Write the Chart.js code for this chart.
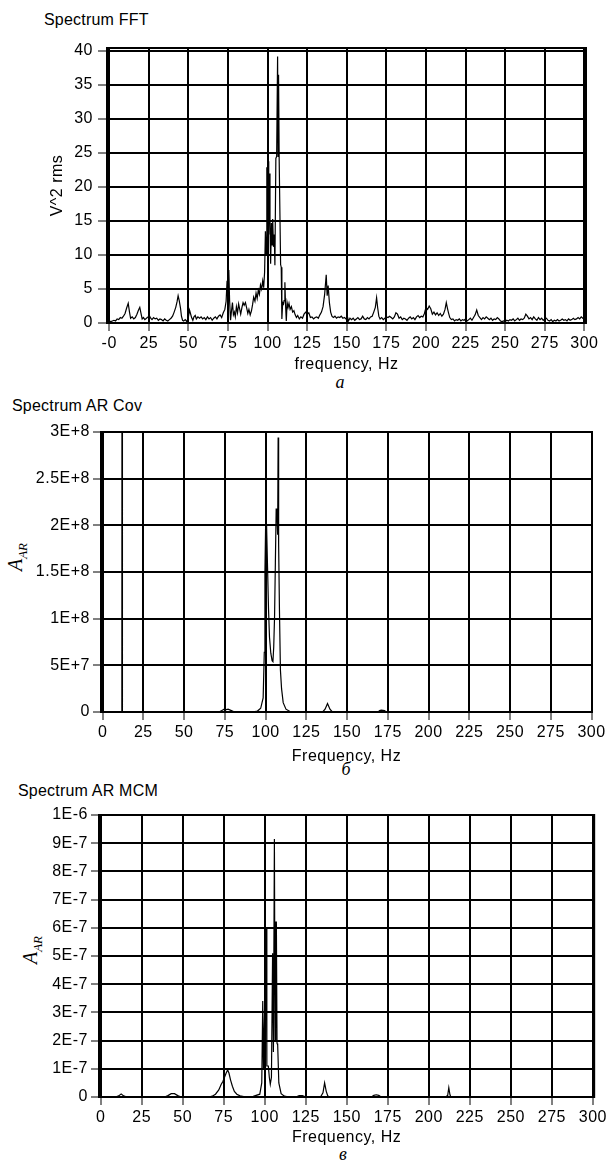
<!DOCTYPE html>
<html>
<head>
<meta charset="utf-8">
<script src="https://cdn.jsdelivr.net/npm/chart.js@4.4.0/dist/chart.umd.min.js"></script>
<style>
  body { margin: 0; background: #fff; width: 610px; height: 1160px; position: relative; overflow: hidden; font-family: "Liberation Sans", Arial, sans-serif; color: #000; }
  canvas { position: absolute; left: 0; }
  .lbl { position: absolute; font-size: 16px; line-height: 18px; letter-spacing: 0.2px; white-space: nowrap; transform: translateY(-50%); }
  .letter { position: absolute; font-family: "Liberation Serif", serif; font-style: italic; font-size: 18px; line-height: 18px; transform: translate(-50%, -50%); }
  .ytitle { position: absolute; font-family: "Liberation Serif", serif; font-style: italic; font-size: 20px; line-height: 22px; white-space: nowrap; transform: translate(-50%, -50%) rotate(-90deg); }
  .ytitle sub { font-size: 13px; }
</style>
</head>
<body>
<div class="lbl" style="left:44px; top:20px">Spectrum FFT</div>
<div class="lbl" style="left:12px; top:406px">Spectrum AR Cov</div>
<div class="lbl" style="left:18px; top:791px">Spectrum AR MCM</div>

<div class="ytitle" style="left:19px; top:557px">A<sub>AR</sub></div>
<div class="ytitle" style="left:34px; top:950px">A<sub>AR</sub></div>

<div class="letter" style="left:340px; top:382px">а</div>
<div class="letter" style="left:346px; top:769px">б</div>
<div class="letter" style="left:343px; top:1154px">в</div>

<canvas id="fft" width="610" height="378" style="top:0px"></canvas>
<canvas id="cov" width="610" height="380" style="top:390px"></canvas>
<canvas id="mcm" width="610" height="380" style="top:780px"></canvas>

<script>
// ticks
const freqTicks = [0, 25, 50, 75, 100, 125, 150, 175, 200, 225, 250, 275, 300]
const fftTicks = [0, 5, 10, 15, 20, 25, 30, 35, 40]
const covTicks = [0, 5e7, 1e8, 1.5e8, 2e8, 2.5e8, 3e8]
const mcmTicks = [0, 1e-7, 2e-7, 3e-7, 4e-7, 5e-7, 6e-7, 7e-7, 8e-7, 9e-7, 1e-6]

// [Hz, V^2 rms]
const fftSpectrum = [
  [0, 0.3], [1, 0.2], [2, 0.3], [3, 0.4], [4, 0.3], [5, 0.6], [6, 0.5], [7, 0.8], [8, 0.7], [9, 1.0],
  [10, 1.4], [11, 2.2], [12, 2.9], [12.8, 1.6], [13.5, 0.7], [14.5, 0.9], [15.5, 0.6], [16.5, 0.8], [17.5, 1.3], [18.5, 1.9],
  [19.3, 2.3], [20, 1.5], [20.8, 0.6], [21.6, 0.8], [22.5, 0.5], [23.5, 0.7], [24.5, 0.9], [25.3, 1.1], [26.2, 0.7], [27, 0.5],
  [28, 0.8], [29, 0.6], [30, 0.7], [31, 0.4], [32, 0.6], [33, 0.5], [34, 0.3], [35, 0.6], [36, 0.4], [37, 0.3],
  [38, 0.5], [39, 0.7], [40, 1.0], [41, 1.6], [42, 2.3], [42.8, 3.1], [43.5, 4.0], [44.2, 3.3], [45, 2.2], [45.6, 1.0],
  [46.3, 0.4], [47, 0.3], [48, 0.5], [49, 0.2], [50, 0.9], [50.7, 1.9], [51.3, 1.4], [52, 0.8], [52.8, 0.4], [53.5, 0.9],
  [54.3, 1.1], [55, 0.6], [56, 0.9], [57, 0.7], [58, 0.9], [59, 0.6], [60, 0.8], [61, 0.5], [62, 0.9], [63, 0.6],
  [64, 0.8], [65, 0.4], [66, 0.7], [67, 0.9], [68, 0.6], [69, 1.0], [70, 1.2], [71, 0.8], [72, 1.5], [73, 2.0],
  [73.8, 3.2], [74.4, 6.2], [75, 4.0], [75.5, 7.8], [76, 3.3], [76.6, 0.4], [77.2, 1.8], [77.8, 3.0], [78.4, 1.2], [79, 1.6],
  [79.6, 0.9], [80.3, 2.4], [81, 1.5], [81.7, 2.8], [82.4, 2.0], [83, 1.3], [83.8, 2.3], [84.5, 3.0], [85.2, 2.6], [86, 3.0],
  [86.8, 2.2], [87.5, 1.4], [88.2, 2.0], [89, 1.2], [89.8, 1.8], [90.5, 2.7], [91.2, 3.8], [92, 3.2], [92.7, 4.4], [93.4, 3.6],
  [94.1, 4.8], [94.8, 4.2], [95.5, 5.6], [96.2, 5.0], [96.9, 6.2], [97.5, 5.2], [98.1, 7.5], [98.6, 13.5], [99.1, 10.0], [99.5, 22.9],
  [99.9, 14.0], [100.3, 23.8], [100.7, 13.0], [101.1, 22.0], [101.5, 15.0], [101.9, 8.7], [102.4, 14.7], [102.8, 11.5], [103.2, 15.3], [103.7, 11.2],
  [104.2, 13.0], [104.6, 8.5], [105.2, 24.2], [105.7, 24.5], [106.3, 39.2], [106.6, 24.5], [106.9, 36.5], [107.3, 24.0], [107.8, 24.0], [108.2, 8.6],
  [108.6, 8.2], [109.0, 0.6], [109.5, 3.0], [110.0, 2.8], [110.4, 3.3], [110.9, 6.0], [111.3, 2.8], [111.8, 0.3], [112.3, 3.0], [112.9, 2.3],
  [113.5, 2.9], [114.2, 2.0], [115, 2.4], [115.8, 1.6], [116.6, 1.8], [117.4, 1.2], [118.2, 0.8], [119, 1.1], [120, 0.6], [121, 0.9],
  [122, 0.7], [123, 1.3], [124, 1.6], [125, 1.3], [126, 1.5], [127, 0.8], [128, 0.9], [129, 0.6], [130, 0.8], [131, 0.9],
  [132, 0.7], [133, 1.2], [134, 1.6], [135, 2.4], [136, 4.2], [137, 7.1], [137.6, 4.0], [138.2, 5.5], [139, 3.0], [139.8, 1.6],
  [140.6, 1.0], [141.5, 0.8], [142.5, 1.0], [143.5, 0.7], [144.5, 0.9], [145.5, 0.8], [146.5, 1.0], [147.5, 0.7], [148.5, 0.8], [149.5, 0.6],
  [150.3, 1.0], [151, 0.3], [152, 0.7], [153, 0.5], [154, 0.7], [155, 0.4], [156, 0.6], [157, 0.8], [158, 0.5], [159, 0.6],
  [160, 1.0], [161, 0.6], [162, 0.5], [163, 0.8], [164, 0.6], [165, 0.9], [166, 1.0], [167, 1.6], [168, 2.3], [168.8, 3.7],
  [169.5, 2.2], [170.2, 1.0], [171, 0.6], [172, 0.8], [173, 0.5], [174, 0.7], [175, 0.9], [176, 0.8], [177, 1.0], [178, 0.8],
  [179, 0.6], [180, 0.9], [181, 1.5], [182, 1.3], [183, 0.7], [184, 0.9], [185, 0.5], [186, 0.7], [187, 0.6], [188, 0.4],
  [189, 0.7], [190, 0.9], [191, 0.6], [192, 0.8], [193, 0.5], [194, 0.9], [195, 1.1], [196, 0.8], [197, 1.0], [198, 0.9],
  [199, 1.4], [200, 2.3], [201, 2.0], [202, 2.5], [203, 2.1], [204, 1.3], [205, 1.6], [206, 1.2], [207, 1.5], [208, 1.1],
  [209, 1.4], [210, 1.0], [211, 1.3], [212, 2.0], [212.8, 3.0], [213.5, 2.2], [214.2, 1.5], [215, 0.8], [216, 0.5], [217, 0.6],
  [218, 0.3], [219, 0.5], [220, 0.4], [221, 0.6], [222, 0.3], [223, 0.5], [224, 0.4], [225, 0.6], [226, 0.3], [227, 0.5],
  [228, 0.7], [229, 0.4], [230, 0.8], [231, 1.2], [232, 1.9], [233, 1.1], [234, 0.8], [235, 0.5], [236, 0.8], [237, 0.6],
  [238, 0.9], [239, 0.7], [240, 0.5], [241, 0.7], [242, 0.4], [243, 0.6], [244, 0.5], [245, 0.8], [246, 0.6], [247, 0.3],
  [248, 0.2], [249, 0.3], [250, 0.2], [251, 0.4], [252, 0.3], [253, 0.5], [254, 0.4], [255, 0.6], [256, 0.3], [257, 0.5],
  [258, 0.7], [259, 0.4], [260, 0.6], [261, 0.5], [262, 0.7], [263, 1.3], [264, 1.0], [265, 0.6], [266, 0.8], [267, 0.5],
  [268, 0.9], [269, 0.6], [270, 0.4], [271, 0.8], [272, 0.5], [273, 0.7], [274, 0.4], [275, 0.6], [276, 0.7], [277, 0.4],
  [278, 0.3], [279, 0.5], [280, 0.2], [281, 0.4], [282, 0.3], [283, 0.5], [284, 0.3], [285, 0.4], [286, 0.6], [287, 0.4],
  [288, 0.5], [289, 0.3], [290, 0.6], [291, 0.4], [292, 0.5], [293, 0.7], [294, 0.5], [295, 0.6], [296, 0.8], [297, 0.6],
  [298, 0.9], [299, 0.7], [300, 0.5]
]

// [Hz, A_AR]
const arCovSpectrum = [
  [0, 0], [11.5, 0], [11.8, 4e6], [11.9, 6e8], [12.0, 4e6], [12.3, 0],
  [70, 0], [72, 5e5], [74, 2.5e6], [75, 3.5e6], [76, 2.5e6], [77, 3e6], [79, 1.5e6], [81, 0],
  [92, 0], [95, 1e6], [97, 4e6], [98.5, 1.5e7], [99.2, 6.4e7], [99.6, 1.5e8], [100.1, 2.1e8], [100.6, 2.0e8],
  [101.2, 1.55e8], [101.8, 1.1e8], [102.4, 8e7], [103.2, 6.3e7], [104.0, 5.5e7], [104.5, 5.4e7], [105.0, 7e7],
  [105.5, 1.02e8], [106.0, 1.6e8], [106.5, 2.18e8], [107.0, 2.1e8], [107.4, 1.9e8], [107.7, 2.94e8], [108.0, 1.8e8],
  [108.5, 1.1e8], [109.1, 4.5e7], [109.8, 2.5e7], [110.8, 1e7], [112.5, 3e6], [115, 5e5], [117, 0],
  [135, 0], [136.5, 3e6], [138, 9e6], [139.5, 3e6], [141, 0],
  [169, 0], [170, 1.5e6], [171, 2e6], [172, 1.8e6], [173, 1.5e6], [174, 0], [300.3, 0]
]

// [Hz, A_AR]
const arMcmSpectrum = [
  [0, 0], [9, 0], [11, 4e-9], [12.5, 1.1e-8], [14, 4e-9], [16, 0],
  [39, 0], [41, 5e-9], [43, 1.2e-8], [45, 1.2e-8], [47, 5e-9], [49, 0],
  [66, 0], [68, 3e-9], [70, 1e-8], [72, 2.5e-8], [73.5, 4.5e-8], [74.5, 5.5e-8], [75.5, 7e-8], [76.5, 8.5e-8],
  [77.4, 9.6e-8], [78.2, 8.5e-8], [79.2, 6e-8], [80.3, 3.8e-8], [81.5, 2e-8], [83, 1e-8], [85, 4e-9], [88, 1e-9],
  [93, 2e-9], [97, 1e-8], [98.2, 5e-8], [98.8, 3.4e-7], [99.2, 1e-7], [99.9, 3e-7], [100.5, 6.0e-7], [100.9, 6.0e-7],
  [101.3, 1.1e-7], [102.2, 1.1e-7], [102.8, 7e-8], [103.4, 4.5e-8], [104.1, 7e-8], [104.8, 5.1e-7], [105.3, 1.6e-7],
  [105.9, 9.15e-7], [106.3, 2.0e-7], [106.7, 6.2e-7], [107.1, 6.2e-7], [107.5, 1.9e-7], [107.9, 1.85e-7], [108.6, 5e-8],
  [110, 1.2e-8], [112, 3e-9], [115, 0],
  [119, 0], [121, 5e-9], [123, 5e-9], [125, 0],
  [134, 0], [135.5, 1.5e-8], [136.5, 5e-8], [137.5, 2e-8], [138.5, 3e-9], [140, 0],
  [165, 0], [166.5, 6e-9], [168, 8e-9], [169.5, 6e-9], [171, 0],
  [210, 0], [211.5, 5e-9], [212.2, 3.3e-8], [212.9, 8e-9], [213.5, 0], [300.8, 0]
]

const FONT = { family: "'Liberation Sans', Arial, sans-serif", size: 16 }

function sci(v) {
    if (v === 0) return '0'
    return Number(v.toPrecision(3)).toExponential().replace('e', 'E')
}

// plot frame + slightly wider text like the old bitmap font
const frame = {
    id: 'frame',
    beforeLayout(chart) { chart.ctx.letterSpacing = '0.5px' },
    beforeDraw(chart) { chart.ctx.letterSpacing = '0.5px' },
    beforeDatasetsDraw(chart) {
        const a = chart.chartArea
        const ctx = chart.ctx
        ctx.save()
        ctx.strokeStyle = '#000'
        ctx.lineWidth = 2
        ctx.strokeRect(a.left, a.top, a.right - a.left, a.bottom - a.top)
        ctx.restore()
    }
}

function buildChart(id, points, s) {
    new Chart(id, {
        type: 'line',
        data: {
            datasets: [{
                data: points.map(p => ({ x: p[0], y: p[1] })),
                borderColor: '#000',
                borderWidth: 1.2,
                pointRadius: 0,
                tension: 0,
                fill: false
            }]
        },
        options: {
            responsive: false,
            devicePixelRatio: 1,
            animation: false,
            layout: { padding: { top: s.padTop, right: s.padRight, bottom: s.padBottom, left: 0 } },
            plugins: { legend: { display: false }, tooltip: { enabled: false } },
            scales: {
                x: {
                    type: 'linear',
                    min: s.xMin,
                    max: s.xMax,
                    afterBuildTicks: scale => { scale.ticks = freqTicks.map(v => ({ value: v })) },
                    afterFit: scale => { scale.height = s.xHeight },
                    ticks: {
                        color: '#000', font: FONT, padding: 3, maxRotation: 0, autoSkip: false,
                        callback: v => (s.zeroLabel && v === 0) ? s.zeroLabel : String(v)
                    },
                    grid: { color: '#000', lineWidth: 2, tickLength: 8, tickWidth: 1, tickColor: '#000' },
                    border: { display: true, color: '#000', width: 2 },
                    title: { display: true, text: s.xTitle, color: '#000', font: FONT, padding: { top: 2, bottom: 4 } }
                },
                y: {
                    min: s.yMin,
                    max: s.yMax,
                    afterBuildTicks: scale => { scale.ticks = s.yTicks.map(v => ({ value: v })) },
                    afterFit: scale => { scale.width = s.yWidth },
                    ticks: { color: '#000', font: FONT, padding: s.yPad, callback: s.yFormat },
                    grid: { color: '#000', lineWidth: 2, tickLength: s.yTick, tickWidth: 1, tickColor: '#000' },
                    border: { display: true, color: '#000', width: 2 },
                    title: s.yTitle
                        ? { display: true, text: s.yTitle, color: '#000', font: FONT, padding: { top: 48, bottom: 0 } }
                        : { display: false }
                }
            }
        },
        plugins: [frame]
    })
}

buildChart('fft', fftSpectrum, {
    xMin: -1.4, xMax: 301, yMin: 0, yMax: 40.44, yTicks: fftTicks,
    padTop: 48, padRight: 24, padBottom: 0, xHeight: 55, yWidth: 107,
    yTick: 9, yPad: 5, yFormat: v => String(v),
    zeroLabel: '-0', xTitle: 'frequency, Hz', yTitle: 'V^2 rms'
})

buildChart('cov', arCovSpectrum, {
    xMin: -1, xMax: 300.3, yMin: 0, yMax: 3e8, yTicks: covTicks,
    padTop: 42, padRight: 18, padBottom: 0, xHeight: 58, yWidth: 101,
    yTick: 8, yPad: 3, yFormat: sci,
    xTitle: 'Frequency, Hz'
})

buildChart('mcm', arMcmSpectrum, {
    xMin: -1, xMax: 300.8, yMin: 0, yMax: 1e-6, yTicks: mcmTicks,
    padTop: 35, padRight: 14, padBottom: 9, xHeight: 54, yWidth: 99,
    yTick: 8, yPad: 3, yFormat: sci,
    xTitle: 'Frequency, Hz'
})
</script>
</body>
</html>
